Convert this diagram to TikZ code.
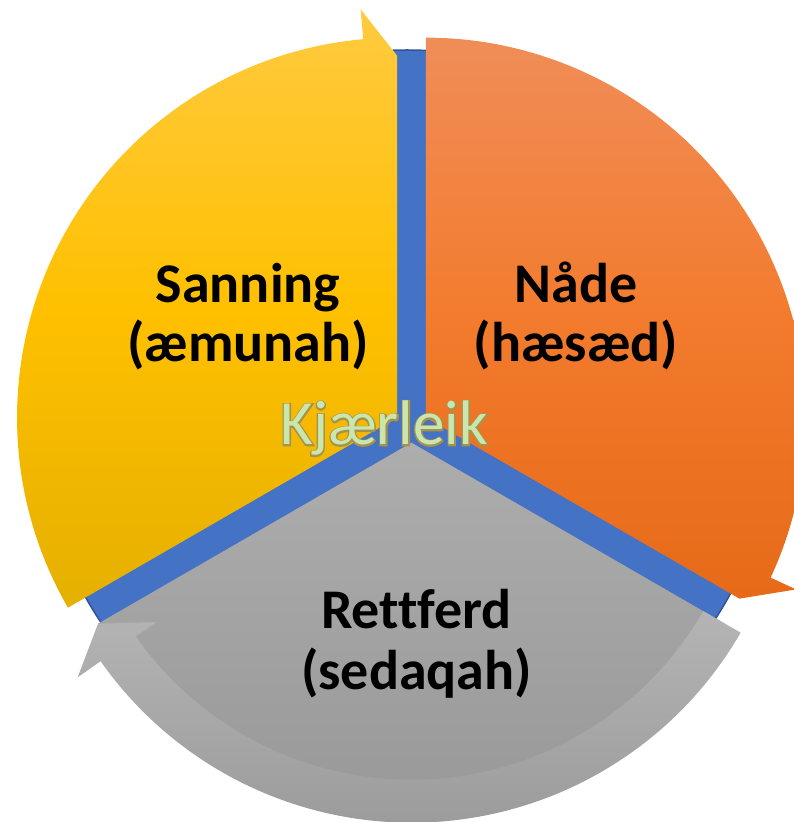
\documentclass[tikz,border=0pt]{standalone}
\usepackage{fontspec}
\setmainfont{Carlito}[Ligatures=CommonOff]
\newfontfamily\kjoutfont{Carlito}[FakeBold=4.5,Ligatures=CommonOff]
\newfontfamily\kjfillfont{Carlito}[Ligatures=CommonOff]
\usetikzlibrary{calc}
\definecolor{ytop}{HTML}{FFCA40}
\definecolor{ymid}{HTML}{FFC000}
\definecolor{ybot}{HTML}{E5B000}
\definecolor{otop}{HTML}{F08D58}
\definecolor{omid}{HTML}{F37B2D}
\definecolor{obot}{HTML}{E66A18}
\definecolor{gtop}{HTML}{ADADAD}
\definecolor{gbot}{HTML}{969696}
\definecolor{btop}{HTML}{B4B4B4}
\definecolor{bbot}{HTML}{9C9C9C}
\definecolor{blueseg}{HTML}{4472C4}
\definecolor{blueedge}{HTML}{2F5597}
\definecolor{kjfill}{HTML}{C8E6AE}
\definecolor{kjout}{HTML}{A8924A}
\newcommand\kjtext[1]{%
  \makebox[0pt][l]{\kjoutfont\color{kjout}#1}%
  {\kjfillfont\color{kjfill}#1}}
\tikzset{
  lbl/.style={font=\fontsize{56}{59}\selectfont\bfseries, anchor=base, inner sep=0pt, text=black},
  yseg/.style={top color=ytop, bottom color=ybot, middle color=ymid},
  oseg/.style={top color=otop, bottom color=obot, middle color=omid},
  gseg/.style={top color=gtop, bottom color=gbot},
  gband/.style={top color=btop, bottom color=bbot},
}
\begin{document}
\begin{tikzpicture}[x=1pt,y=1pt]
\useasboundingbox (0,0) rectangle (794,822);
\clip (0,0) rectangle (794,822);
\coordinate (C) at (411.5,396);
\coordinate (ya) at ($(C)+(150:16.7)$);
\coordinate (oa) at ($(C)+(30:16.7)$);
\coordinate (ga) at ($(C)+(270:16.7)$);
\coordinate (bc) at (407,404);
% blue background disc
\fill[blueseg, draw=blueedge, line width=1.5pt] (bc) circle[radius=368];
% yellow segment
\shade[yseg] (ya) -- ($(ya)+(210:380)$) arc[start angle=210, end angle=95.1, radius=380]
  -- ($(ya)+(95.1:410)$) -- ($(ya)+(90:362)$) -- cycle;
% orange segment
\shade[oseg] (oa) -- ($(oa)+(90:380)$) arc[start angle=90, end angle=-24.9, radius=380]
  -- ($(oa)+(-24.9:408)$) -- ($(oa)+(-30:362)$) -- cycle;
% gray segment
\shade[gseg] (ga) -- ($(ga)+(330:362)$) arc[start angle=330, end angle=210, radius=362] -- cycle;
\shade[gband] ($(ga)+(330:337)$) -- ($(ga)+(330:380)$)
  arc[start angle=330, end angle=215.1, radius=380]
  -- ($(ga)+(215.1:408)$) -- ($(ga)+(210:362)$) -- ($(ga)+(215.1:312)$)
  -- ($(ga)+(215.1:337)$) arc[start angle=215.1, end angle=330, radius=337] -- cycle;
% labels
\node[lbl] (s1) at (248,519) {Sanning};
\node[lbl] (s2) at (248,460) {(æmunah)};
\node[lbl] (n1) at (576,519) {Nåde};
\node[lbl] (n2) at (576,460) {(hæsæd)};
\node[lbl] (r1) at (416.5,193) {Rettferd};
\node[lbl] (r2) at (416.5,132) {(sedaqah)};
\node[anchor=base, inner sep=0pt, font=\fontsize{63}{65}\selectfont] (kj) at (384,377) {\kjtext{Kjærleik}};
\end{tikzpicture}
\end{document}
